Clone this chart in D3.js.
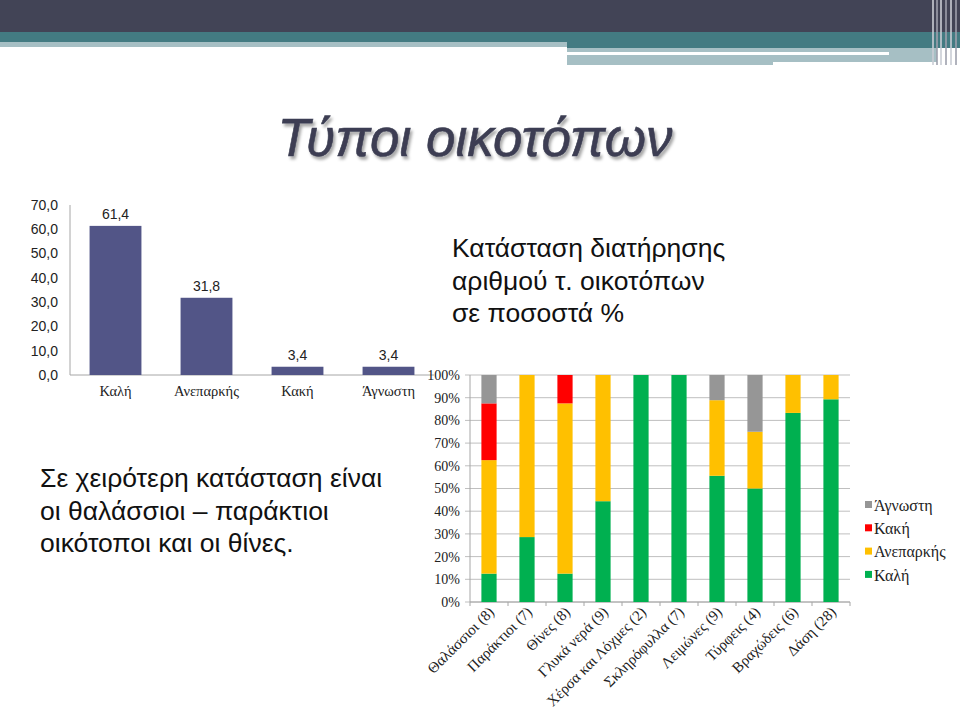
<!DOCTYPE html>
<html>
<head>
<meta charset="utf-8">
<script src="https://cdn.jsdelivr.net/npm/d3@7"></script>
<style>
  html, body { margin: 0; padding: 0; background: #fff; }
  svg { display: block; }
</style>
</head>
<body>
<div id="chart"></div>
<script>
// left chart: share of habitat types by condition
const condNames = ['Καλή', 'Ανεπαρκής', 'Κακή', 'Άγνωστη'];
const condValues = [61.4, 31.8, 3.4, 3.4];
const condTicks = [0, 10, 20, 30, 40, 50, 60, 70];

// right chart: condition per habitat group, in %
const groups = ['Θαλάσσιοι (8)', 'Παράκτιοι (7)', 'Θίνες (8)', 'Γλυκά νερά (9)', 'Χέρσα και Λόχμες (2)',
  'Σκληρόφυλλα (7)', 'Λειμώνες (9)', 'Τύρφεις (4)', 'Βραχώδεις (6)', 'Δάση (28)'];
const goodPct = [12.5, 28.6, 12.5, 44.4, 100, 100, 55.6, 50, 83.3, 89.3];
const poorPct = [50, 71.4, 75, 55.6, 0, 0, 33.3, 25, 16.7, 10.7];
const badPct = [25, 0, 12.5, 0, 0, 0, 0, 0, 0, 0];
const unknownPct = [12.5, 0, 0, 0, 0, 0, 11.1, 25, 0, 0];
const pctTicks = [0, 10, 20, 30, 40, 50, 60, 70, 80, 90, 100];

const W = 960, H = 709;
const sans = '"Liberation Sans", Arial, sans-serif';
const serif = '"Liberation Serif", "Times New Roman", serif';

const svg = d3.select('#chart').append('svg')
  .attr('width', W).attr('height', H);

// header stripes (decor)
const hdr = svg.append('g');
hdr.append('rect').attr('x', 0).attr('y', 0).attr('width', W).attr('height', 32).attr('fill', '#424456');
hdr.append('rect').attr('x', 0).attr('y', 32).attr('width', W).attr('height', 10).attr('fill', '#437b82');
hdr.append('rect').attr('x', 0).attr('y', 42).attr('width', 567).attr('height', 5).attr('fill', '#a6bfc4');
hdr.append('rect').attr('x', 567).attr('y', 42).attr('width', W - 567).attr('height', 6).attr('fill', '#437b82');
hdr.append('rect').attr('x', 567).attr('y', 48).attr('width', 370).attr('height', 17).attr('fill', '#a6bfc4');
hdr.append('rect').attr('x', 567).attr('y', 52).attr('width', 322).attr('height', 3).attr('fill', '#fff');
hdr.append('rect').attr('x', 773).attr('y', 62).attr('width', 164).attr('height', 3).attr('fill', '#fff');
[932, 936, 940, 945, 950, 955].forEach((x, i) => {
  hdr.append('rect').attr('x', x).attr('y', 0).attr('width', 2).attr('height', 65)
    .attr('fill', i % 2 ? '#9ea0ad' : '#c9cdd4').attr('opacity', 0.8);
});

// title
const shadow = svg.append('defs').append('filter').attr('id', 'sh')
  .attr('x', '-10%').attr('y', '-20%').attr('width', '120%').attr('height', '150%');
shadow.append('feDropShadow').attr('dx', 2).attr('dy', 3).attr('stdDeviation', 1.5)
  .attr('flood-color', '#000').attr('flood-opacity', 0.35);
svg.append('text')
  .attr('x', 475).attr('y', 156)
  .attr('text-anchor', 'middle')
  .attr('font-family', sans).attr('font-style', 'italic')
  .attr('font-size', 53).attr('fill', '#3c3e52')
  .attr('stroke', '#3c3e52').attr('stroke-width', 0.6)
  .attr('filter', 'url(#sh)')
  .text('Τύποι οικοτόπων');

// ---- left bar chart ----
const x1 = d3.scaleBand().domain(condNames).range([70, 434]).paddingInner(0.43).paddingOuter(0.215);
const y1 = d3.scaleLinear().domain([0, 70]).range([375, 205]);
const fmt = v => d3.format('.1f')(v).replace('.', ',');

const left = svg.append('g');
left.append('line').attr('x1', 70).attr('x2', 70).attr('y1', y1(70)).attr('y2', y1(0)).attr('stroke', '#a6a6a6');
left.append('line').attr('x1', 70).attr('x2', 434).attr('y1', y1(0)).attr('y2', y1(0)).attr('stroke', '#a6a6a6');
left.selectAll('.yt').data(condTicks).join('text')
  .attr('x', 58).attr('y', d => y1(d)).attr('dy', '0.35em')
  .attr('text-anchor', 'end').attr('font-family', sans).attr('font-size', 14).attr('fill', '#222')
  .text(fmt);
left.selectAll('rect').data(condValues).join('rect')
  .attr('x', (d, i) => x1(condNames[i])).attr('width', x1.bandwidth())
  .attr('y', d => y1(d)).attr('height', d => y1(0) - y1(d))
  .attr('fill', '#525587');
left.selectAll('.vl').data(condValues).join('text')
  .attr('x', (d, i) => x1(condNames[i]) + x1.bandwidth() / 2).attr('y', d => y1(d) - 7)
  .attr('text-anchor', 'middle').attr('font-family', sans).attr('font-size', 14).attr('fill', '#222')
  .text(fmt);
left.selectAll('.xl').data(condNames).join('text')
  .attr('x', d => x1(d) + x1.bandwidth() / 2).attr('y', 396)
  .attr('text-anchor', 'middle').attr('font-family', serif).attr('font-size', 14.5).attr('fill', '#222')
  .text(d => d);

// ---- text blocks ----
const sub = ['Κατάσταση διατήρησης', 'αριθμού τ. οικοτόπων', 'σε ποσοστά %'];
svg.append('g').selectAll('text').data(sub).join('text')
  .attr('x', 452).attr('y', (d, i) => 257 + i * 32.5)
  .attr('font-family', sans).attr('font-size', 26.5).attr('fill', '#111')
  .text(d => d);

const note = ['Σε χειρότερη κατάσταση είναι', 'οι θαλάσσιοι – παράκτιοι', 'οικότοποι και οι θίνες.'];
svg.append('g').selectAll('text').data(note).join('text')
  .attr('x', 40).attr('y', (d, i) => 487 + i * 32.5)
  .attr('font-family', sans).attr('font-size', 26.5).attr('fill', '#111')
  .text(d => d);

// ---- right stacked chart ----
const x2 = d3.scaleBand().domain(groups).range([470, 850]).paddingInner(0.6).paddingOuter(0.3);
const y2 = d3.scaleLinear().domain([0, 100]).range([602, 375]);
const keys = ['good', 'poor', 'bad', 'unknown'];
const colors = { good: '#00b050', poor: '#ffc000', bad: '#ff0000', unknown: '#969696' };
const rows = groups.map((g, i) => ({ g, good: goodPct[i], poor: poorPct[i], bad: badPct[i], unknown: unknownPct[i] }));
const stacked = d3.stack().keys(keys)(rows);

const right = svg.append('g');
right.selectAll('.grid').data(pctTicks).join('line')
  .attr('x1', 465).attr('x2', 850).attr('y1', d => y2(d)).attr('y2', d => y2(d))
  .attr('stroke', '#bfbfbf');
right.append('line').attr('x1', 470).attr('x2', 470).attr('y1', y2(100)).attr('y2', y2(0)).attr('stroke', '#a6a6a6');
right.append('line').attr('x1', 470).attr('x2', 850).attr('y1', y2(0)).attr('y2', y2(0)).attr('stroke', '#a6a6a6');
const bounds = groups.map(g => x2(g) - x2.step() * x2.paddingInner() / 2).concat([850]);
right.selectAll('.xt').data(bounds).join('line')
  .attr('x1', d => d).attr('x2', d => d).attr('y1', y2(0)).attr('y2', y2(0) + 4)
  .attr('stroke', '#a6a6a6');
right.selectAll('.yt').data(pctTicks).join('text')
  .attr('x', 460).attr('y', d => y2(d)).attr('dy', '0.35em')
  .attr('text-anchor', 'end').attr('font-family', serif).attr('font-size', 14).attr('fill', '#222')
  .text(d => d + '%');

right.selectAll('.series').data(stacked).join('g')
  .attr('fill', d => colors[d.key])
  .selectAll('rect').data(d => d).join('rect')
  .attr('x', d => x2(d.data.g)).attr('width', x2.bandwidth())
  .attr('y', d => y2(d[1])).attr('height', d => y2(d[0]) - y2(d[1]));

right.selectAll('.xl').data(groups).join('text')
  .attr('transform', d => `translate(${x2(d) + x2.bandwidth() / 2 + 6},${613}) rotate(-45)`)
  .attr('text-anchor', 'end').attr('font-family', serif).attr('font-size', 15).attr('fill', '#222')
  .text(d => d);

// legend
const legendItems = [
  { key: 'unknown', label: 'Άγνωστη' },
  { key: 'bad', label: 'Κακή' },
  { key: 'poor', label: 'Ανεπαρκής' },
  { key: 'good', label: 'Καλή' }
];
const lg = svg.append('g').selectAll('g').data(legendItems).join('g')
  .attr('transform', (d, i) => `translate(865,${505 + i * 23.3})`);
lg.append('rect').attr('x', 0).attr('y', -4).attr('width', 7).attr('height', 7).attr('fill', d => colors[d.key]);
lg.append('text').attr('x', 9).attr('dy', '0.35em')
  .attr('font-family', serif).attr('font-size', 16).attr('fill', '#222')
  .text(d => d.label);
</script>
</body>
</html>
